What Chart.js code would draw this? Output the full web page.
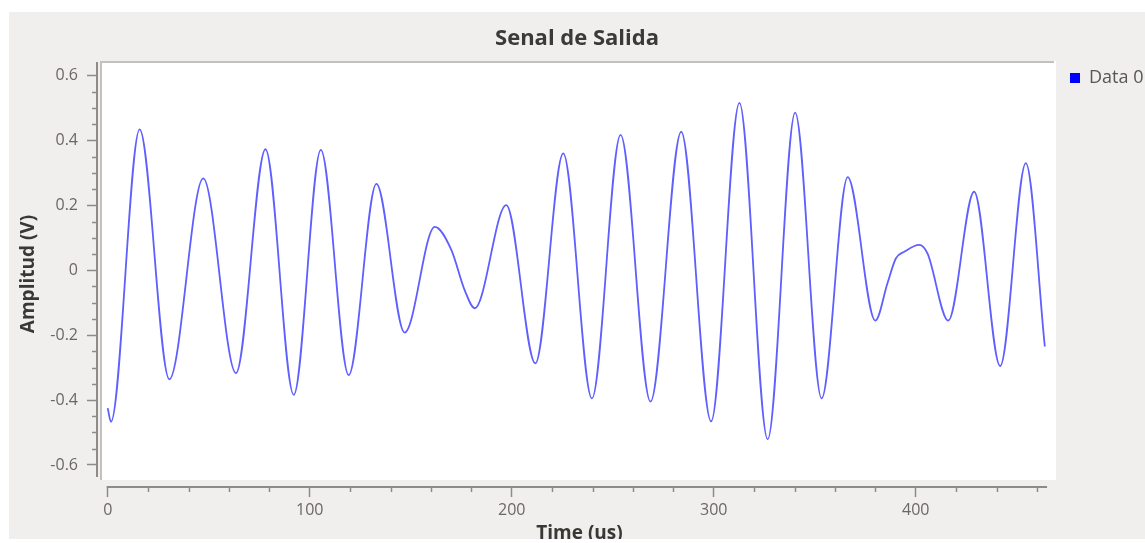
<!DOCTYPE html>
<html><head><meta charset="utf-8">
<script src="https://cdn.jsdelivr.net/npm/chart.js@4.4.1/dist/chart.umd.min.js"></script>
<style>
html,body{margin:0;padding:0;background:#fff;width:1145px;height:543px;overflow:hidden}
#wrap{position:absolute;left:9px;top:12px;width:1136px;height:527px;background:#f0efed;overflow:hidden}
#c{display:block;width:1136px;height:533px}
</style></head><body>
<div id="wrap"><canvas id="c" width="1136" height="533"></canvas></div>
<script>
// ---- data ----
const timeUs = [0, 1.6, 15.8, 30.5, 47.3, 63.5, 78.1, 92.1, 105.5, 119.3, 133.0, 147.0, 161.9, 170.1, 176.7, 181.7,
  197.3, 211.7, 225.5, 239.7, 253.9, 268.7, 283.9, 298.7, 312.7, 326.7, 340.3, 353.4, 366.3, 380.0, 386.0,
  390.2, 394.3, 401.7, 405.8, 416.1, 428.9, 441.8, 454.5, 463.9];
const amplitudeV = [-0.425, -0.467, 0.434, -0.336, 0.283, -0.317, 0.373, -0.384, 0.371, -0.323, 0.266, -0.192, 0.134, 0.063, -0.061, -0.117,
  0.201, -0.287, 0.360, -0.395, 0.417, -0.405, 0.427, -0.466, 0.516, -0.521, 0.486, -0.395, 0.287, -0.155, -0.040,
  0.037, 0.057, 0.078, 0.052, -0.155, 0.242, -0.295, 0.330, -0.235];
const xMajorTicks = [0, 100, 200, 300, 400];
const yMajorTicks = [-0.6, -0.4, -0.2, 0, 0.2, 0.4, 0.6];
const seriesName = 'Data 0';

const axisColor = '#8d8b88';
const tickLabelColor = '#6b6762';
const isXMajor = v => xMajorTicks.some(m => Math.abs(m - v) < 1e-6);
const isYMajor = v => yMajorTicks.some(m => Math.abs(m - v) < 1e-6);

Chart.defaults.font.family = "'Open Sans', 'DejaVu Sans', sans-serif";

const plotFrame = {
  id: 'plotFrame',
  beforeDraw(chart) {
    const {ctx, chartArea: a} = chart;
    ctx.save();
    ctx.fillStyle = '#ffffff';
    ctx.fillRect(a.left + 4, a.top, (a.right - 6) - (a.left + 4), (a.bottom - 7) - a.top);
    ctx.strokeStyle = '#c2c1bf';
    ctx.lineWidth = 2;
    ctx.beginPath();
    ctx.moveTo(a.left + 4, a.bottom - 7);
    ctx.lineTo(a.left + 4, a.top + 1);
    ctx.lineTo(a.right - 8, a.top + 1);
    ctx.stroke();
    ctx.restore();
  },
  afterDraw(chart) {
    const {ctx, chartArea: a, scales: {x, y}} = chart;
    ctx.save();
    ctx.strokeStyle = axisColor;
    ctx.lineWidth = 2;
    ctx.beginPath();
    ctx.moveTo(x.getPixelForValue(0) - 1, a.bottom);
    ctx.lineTo(x.getPixelForValue(465), a.bottom);
    ctx.moveTo(a.left, a.top + 1);
    ctx.lineTo(a.left, a.bottom - 10);
    ctx.stroke();
    ctx.lineWidth = 1.5;
    ctx.beginPath();
    x.ticks.forEach(t => {
      if (isXMajor(t.value)) return;
      const px = Math.round(x.getPixelForValue(t.value)) + 0.5;
      ctx.moveTo(px, a.bottom);
      ctx.lineTo(px, a.bottom + 5);
    });
    y.ticks.forEach(t => {
      if (isYMajor(t.value)) return;
      const py = Math.round(y.getPixelForValue(t.value)) + 0.5;
      if (py > a.bottom - 10 || py < a.top) return;
      ctx.moveTo(a.left - 5, py);
      ctx.lineTo(a.left, py);
    });
    ctx.stroke();
    ctx.restore();
  }
};

new Chart(document.getElementById('c'), {
  type: 'line',
  data: {
    datasets: [{
      label: seriesName,
      data: timeUs.map((t, i) => ({x: t, y: amplitudeV[i]})),
      borderColor: 'rgb(95,95,255)',
      backgroundColor: '#0000ff',
      borderWidth: 1.8,
      pointRadius: 0,
      fill: false,
      cubicInterpolationMode: 'monotone'
    }]
  },
  options: {
    responsive: false,
    animation: false,
    events: [],
    layout: {padding: 0},
    plugins: {
      title: {
        display: true,
        text: 'Senal de Salida',
        color: '#3a3a3a',
        font: {size: 22, weight: 'bold'},
        padding: {top: 14, bottom: 8.6}
      },
      legend: {
        position: 'right',
        align: 'start',
        fullSize: false,
        maxWidth: 83,
        labels: {
          padding: 8,
          boxWidth: 10,
          boxHeight: 10,
          color: '#5a5652',
          font: {size: 18},
          generateLabels: (chart) => Chart.defaults.plugins.legend.labels.generateLabels(chart)
            .map(l => Object.assign(l, {fillStyle: '#0000ff', strokeStyle: '#0000ff', lineWidth: 0}))
        }
      },
      tooltip: {enabled: false}
    },
    scales: {
      x: {
        type: 'linear',
        min: -5.3,
        max: 472.4,
        afterFit: s => { s.height = 58; },
        border: {display: false},
        grid: {
          drawOnChartArea: false,
          drawTicks: true,
          tickLength: 10,
          tickWidth: 1.5,
          tickColor: c => isXMajor(c.tick.value) ? axisColor : 'rgba(0,0,0,0)'
        },
        ticks: {
          stepSize: 20,
          includeBounds: false,
          autoSkip: false,
          maxRotation: 0,
          padding: 4,
          color: tickLabelColor,
          font: {size: 16},
          callback: v => isXMajor(v) ? String(Math.round(v)) : ''
        },
        title: {
          display: true,
          text: 'Time (us)',
          color: '#3a3835',
          font: {size: 19, weight: 'bold'},
          padding: {top: 0, bottom: 0}
        }
      },
      y: {
        type: 'linear',
        min: -0.668,
        max: 0.645,
        afterFit: s => { s.width = 88; },
        border: {display: false},
        grid: {
          drawOnChartArea: false,
          drawTicks: true,
          tickLength: 10,
          tickWidth: 1.5,
          tickColor: c => isYMajor(c.tick.value) ? axisColor : 'rgba(0,0,0,0)'
        },
        ticks: {
          stepSize: 0.05,
          includeBounds: false,
          autoSkip: false,
          padding: 9,
          color: tickLabelColor,
          font: {size: 16},
          callback: v => {
            if (!isYMajor(v)) return '';
            const r = Math.round(v * 10) / 10;
            return r === 0 ? '0' : String(r);
          }
        },
        title: {
          display: true,
          text: 'Amplitud (V)',
          color: '#3a3835',
          font: {size: 19, weight: 'bold'},
          padding: {top: 8, bottom: 0}
        }
      }
    }
  },
  plugins: [plotFrame]
});
</script>
</body></html>
